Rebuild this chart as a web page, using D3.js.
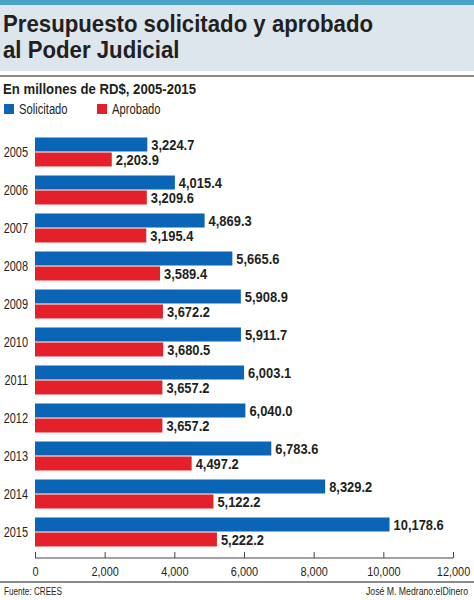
<!DOCTYPE html>
<html><head><meta charset="utf-8">
<script src="https://cdn.jsdelivr.net/npm/d3@7"></script>
<style>
html,body{margin:0;padding:0;background:#fff;}
svg{display:block;}
text{font-family:"Liberation Sans",Arial,sans-serif;}
</style></head>
<body>
<svg id="chart" width="474" height="600"></svg>
<script>
const years = ["2005","2006","2007","2008","2009","2010","2011","2012","2013","2014","2015"];
const solicitado = [3224.7,4015.4,4869.3,5665.6,5908.9,5911.7,6003.1,6040.0,6783.6,8329.2,10178.6];
const aprobado = [2203.9,3209.6,3195.4,3589.4,3672.2,3680.5,3657.2,3657.2,4497.2,5122.2,5222.2];
const seriesNames = ["Solicitado","Aprobado"];
const colors = ["#0a65b6","#e4202a"];
const xTicks = [0,2000,4000,6000,8000,10000,12000];

const svg = d3.select("#chart");
const ink = "#231f20";
// condense text horizontally by factor
function squeeze(sel, f){
  sel.each(function(){
    const L = this.getComputedTextLength();
    this.setAttribute("textLength", L*f);
    this.setAttribute("lengthAdjust","spacingAndGlyphs");
  });
  return sel;
}

// header
svg.append("rect").attr("x",0).attr("y",0).attr("width",474).attr("height",5).attr("fill","#4ba3c3");
svg.append("rect").attr("x",0).attr("y",5).attr("width",474).attr("height",66).attr("fill","#dde6ec");
const t1 = svg.append("text").attr("x",3).attr("y",32).attr("font-size",24).attr("font-weight","bold").attr("fill",ink).text("Presupuesto solicitado y aprobado");
const tf = 370 / t1.node().getComputedTextLength();
squeeze(t1, tf);
squeeze(svg.append("text").attr("x",3).attr("y",58).attr("font-size",24).attr("font-weight","bold").attr("fill",ink).text("al Poder Judicial"), tf);
svg.append("rect").attr("x",0).attr("y",75).attr("width",474).attr("height",2).attr("fill","#8a8a8a");
const st = svg.append("text").attr("x",3).attr("y",94).attr("font-size",14).attr("font-weight","bold").attr("fill",ink).text("En millones de RD$, 2005-2015");
squeeze(st, 193/st.node().getComputedTextLength());

// legend
const legX = [4,97];
seriesNames.forEach((n,i)=>{
  svg.append("rect").attr("x",legX[i]).attr("y",104).attr("width",10).attr("height",10).attr("fill",colors[i]);
  squeeze(svg.append("text").attr("x",legX[i]+15).attr("y",114).attr("font-size",14).attr("fill",ink).text(n), 0.8);
});

const x = d3.scaleLinear().domain([0,12000]).range([35,453]);
const y = d3.scaleBand().domain(years).range([133,551]).paddingInner(0).paddingOuter(0);
const barH = 14, gap = 1;
const groupOff = (y.bandwidth() - (2*barH+gap))/2;

const g = svg.append("g");
years.forEach((yr,i)=>{
  const top = y(yr) + groupOff;
  const vals = [solicitado[i], aprobado[i]];
  vals.forEach((v,j)=>{
    const by = top + j*(barH+gap);
    g.append("rect").attr("x",x(0)).attr("y",by).attr("width",x(v)-x(0)).attr("height",barH).attr("fill",colors[j]);
    squeeze(g.append("text").attr("x",x(v)+4).attr("y",by+barH/2).attr("dy","0.36em")
      .attr("font-size",15).attr("font-weight","bold").attr("fill",ink)
      .text(d3.format(",.1f")(v)), 0.86);
  });
  squeeze(g.append("text").attr("x",28).attr("y",top+barH+gap/2).attr("dy","0.36em").attr("text-anchor","end")
    .attr("font-size",14).attr("fill",ink).text(yr), 0.78);
});

// axis
const axis = d3.axisTop(x).tickValues(xTicks).tickSize(6).tickFormat(d3.format(","));
const ax = svg.append("g").attr("transform","translate(0,558)").call(axis);
ax.select(".domain").attr("stroke","#444").attr("d","M35,0H453");
ax.selectAll(".tick line").attr("stroke","#444");
const tl = ax.selectAll(".tick text").attr("y",13).attr("dy","0.36em").attr("font-size",13).attr("fill",ink)
  .attr("font-family","\"Liberation Sans\",Arial,sans-serif");
squeeze(tl, 0.84);

svg.append("rect").attr("x",0).attr("y",581).attr("width",474).attr("height",2).attr("fill","#8a8a8a");
const f1 = svg.append("text").attr("x",4).attr("y",595).attr("font-size",10).attr("fill",ink).text("Fuente: CREES");
squeeze(f1, 58/f1.node().getComputedTextLength());
const f2 = svg.append("text").attr("x",468).attr("y",595).attr("text-anchor","end").attr("font-size",10).attr("fill",ink).text("José M. Medrano:elDinero");
squeeze(f2, 102/f2.node().getComputedTextLength());
</script>
</body></html>
